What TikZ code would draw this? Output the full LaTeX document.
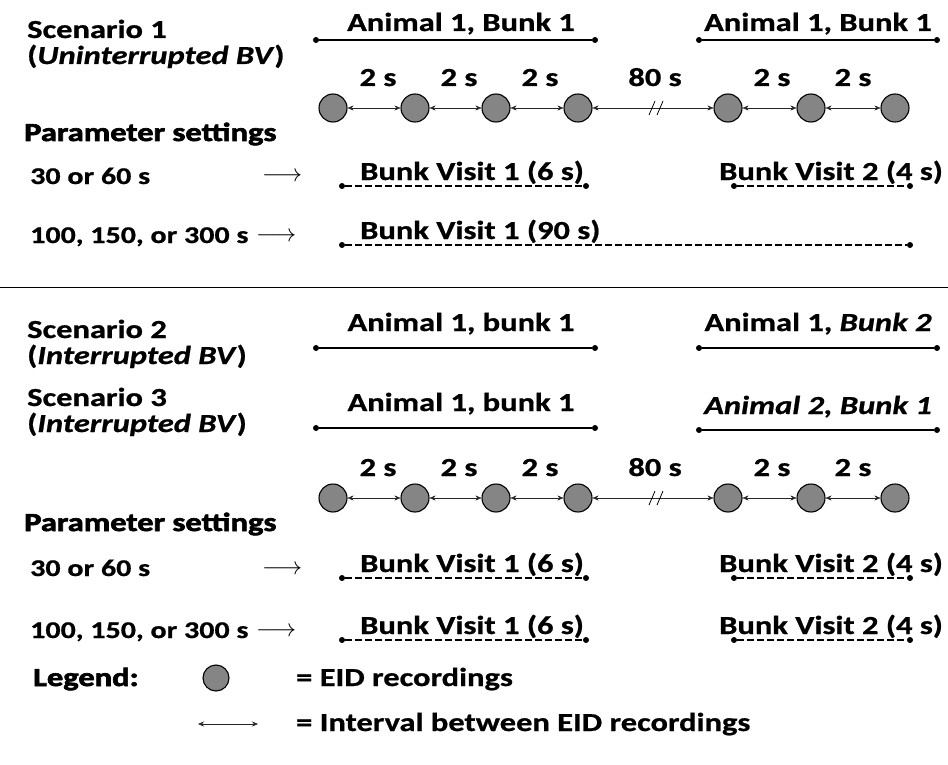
\documentclass[tikz,border=0pt]{standalone}
\usepackage{fontspec}
\setmainfont{Carlito}[FakeStretch=1.25, BoldFeatures={FakeBold=0.8}, BoldItalicFeatures={FakeBold=0.8}]
\newfontfamily\heavyfont{Carlito}[FakeStretch=1.25, BoldFeatures={FakeBold=2.5}]
\usetikzlibrary{arrows.meta}

\tikzset{
  txt/.style={anchor=base west, inner sep=0pt, font=\fontsize{26}{28}\selectfont\bfseries},
  ctxt/.style={anchor=base, inner sep=0pt, font=\fontsize{26}{28}\selectfont\bfseries},
  rowtxt/.style={txt, font=\fontsize{24}{26}\selectfont\bfseries},
  heavy/.style={txt, font=\fontsize{26}{28}\selectfont\heavyfont\bfseries},
  goes/.style={anchor=base west, inner sep=0pt, font=\fontsize{24}{26}\selectfont},
  rec/.style={circle, draw=black, line width=1.1pt, fill=black!48, minimum size=28pt, inner sep=0pt},
  gap/.style={{Stealth[length=6pt,width=5pt]}-{Stealth[length=6pt,width=5pt]}, draw=black!85},
  span/.style={line width=1.3pt},
  visit/.style={line width=1.4pt, dash pattern=on 7pt off 3pt},
  tip/.style={circle, fill=black, inner sep=0pt, minimum size=6pt}
}

\begin{document}
\begin{tikzpicture}[x=1pt,y=-1pt]
  \useasboundingbox (0,0) rectangle (948,765);

  % Scenario 1
  \node[txt] (sc1) at (27,38) {Scenario 1};
  \node[txt] (sc1b) at (27,64) {(\textit{Uninterrupted BV})};
  \node[ctxt] (a1) at (461,31) {Animal 1, Bunk 1};
  \node[ctxt] (a2) at (818,31) {Animal 1, Bunk 1};
  \node[tip] (a1l) at (316,40) {};
  \node[tip] (a1r) at (595,40) {};
  \node[tip] (a2l) at (699,40) {};
  \node[tip] (a2r) at (937,40) {};
  \draw[span] (a1l) -- (a1r);
  \draw[span] (a2l) -- (a2r);

  \node[ctxt] at (378,86) {2 s};
  \node[ctxt] at (459,86) {2 s};
  \node[ctxt] at (540,86) {2 s};
  \node[ctxt] at (655,86) {80 s};
  \node[ctxt] at (772,86) {2 s};
  \node[ctxt] at (853,86) {2 s};

  \node[rec] (p1) at (333,108) {};
  \node[rec] (p2) at (415,108) {};
  \node[rec] (p3) at (496,108) {};
  \node[rec] (p4) at (578,108) {};
  \node[rec] (p5) at (728,108) {};
  \node[rec] (p6) at (811,108) {};
  \node[rec] (p7) at (895,108) {};
  \draw[gap] (p1) -- (p2);
  \draw[gap] (p2) -- (p3);
  \draw[gap] (p3) -- (p4);
  \draw[gap] (p4) -- (p5);
  \draw[gap] (p5) -- (p6);
  \draw[gap] (p6) -- (p7);
  \draw[thick] (649,115) -- (655,101);
  \draw[thick] (657,115) -- (663,101);

  \node[heavy] (ps1) at (24,141) {Parameter settings};
  \node[rowtxt] (r1) at (30,184) {30 or 60 s};
  \node[goes] at (262,182) {$\longrightarrow$};
  \node[txt] (b1) at (360,180) {Bunk Visit 1 (6 s)};
  \node[txt] (b2) at (719,180) {Bunk Visit 2 (4 s)};
  \node[tip] (b1l) at (342,186) {};
  \node[tip] (b1r) at (586,186) {};
  \node[tip] (b2l) at (734,186) {};
  \node[tip] (b2r) at (910,186) {};
  \draw[visit] (b1l) -- (b1r);
  \draw[visit] (b2l) -- (b2r);

  \node[rowtxt] (r2) at (30,243) {100, 150, or 300 s};
  \node[goes] at (256,241) {$\longrightarrow$};
  \node[txt] (b3) at (360,239) {Bunk Visit 1 (90 s)};
  \node[tip] (b3l) at (342,245) {};
  \node[tip] (b3r) at (910,245) {};
  \draw[visit] (b3l) -- (b3r);

  % separator
  \draw (0,287) -- (948,287);

  % Scenarios 2 and 3
  \node[txt] (sc2) at (27,338) {Scenario 2};
  \node[txt] (sc2b) at (27,364) {(\textit{Interrupted BV})};
  \node[ctxt] (a3) at (461,331) {Animal 1, bunk 1};
  \node[ctxt] (a4) at (818,331) {Animal 1, \textit{Bunk 2}};
  \node[tip] (a3l) at (316,348) {};
  \node[tip] (a3r) at (595,348) {};
  \node[tip] (a4l) at (699,348) {};
  \node[tip] (a4r) at (937,348) {};
  \draw[span] (a3l) -- (a3r);
  \draw[span] (a4l) -- (a4r);

  \node[txt] (sc3) at (27,406) {Scenario 3};
  \node[txt] (sc3b) at (27,432) {(\textit{Interrupted BV})};
  \node[ctxt] (a5) at (461,411) {Animal 1, bunk 1};
  \node[ctxt] (a6) at (818,414) {\textit{Animal 2, Bunk 1}};
  \node[tip] (a5l) at (316,428) {};
  \node[tip] (a5r) at (595,428) {};
  \node[tip] (a6l) at (699,430) {};
  \node[tip] (a6r) at (937,430) {};
  \draw[span] (a5l) -- (a5r);
  \draw[span] (a6l) -- (a6r);

  \node[ctxt] at (378,476) {2 s};
  \node[ctxt] at (459,476) {2 s};
  \node[ctxt] at (540,476) {2 s};
  \node[ctxt] at (655,476) {80 s};
  \node[ctxt] at (772,476) {2 s};
  \node[ctxt] at (853,476) {2 s};

  \node[rec] (q1) at (333,498) {};
  \node[rec] (q2) at (415,498) {};
  \node[rec] (q3) at (496,498) {};
  \node[rec] (q4) at (578,498) {};
  \node[rec] (q5) at (728,498) {};
  \node[rec] (q6) at (811,498) {};
  \node[rec] (q7) at (895,498) {};
  \draw[gap] (q1) -- (q2);
  \draw[gap] (q2) -- (q3);
  \draw[gap] (q3) -- (q4);
  \draw[gap] (q4) -- (q5);
  \draw[gap] (q5) -- (q6);
  \draw[gap] (q6) -- (q7);
  \draw[thick] (649,505) -- (655,491);
  \draw[thick] (657,505) -- (663,491);

  \node[heavy] (ps2) at (24,531) {Parameter settings};
  \node[rowtxt] (r3) at (30,576) {30 or 60 s};
  \node[goes] at (262,574) {$\longrightarrow$};
  \node[txt] (b4) at (360,572) {Bunk Visit 1 (6 s)};
  \node[txt] (b5) at (719,572) {Bunk Visit 2 (4 s)};
  \node[tip] (b4l) at (342,578) {};
  \node[tip] (b4r) at (586,578) {};
  \node[tip] (b5l) at (734,578) {};
  \node[tip] (b5r) at (910,578) {};
  \draw[visit] (b4l) -- (b4r);
  \draw[visit] (b5l) -- (b5r);

  \node[rowtxt] (r4) at (30,638) {100, 150, or 300 s};
  \node[goes] at (256,636) {$\longrightarrow$};
  \node[txt] (b6) at (360,634) {Bunk Visit 1 (6 s)};
  \node[txt] (b7) at (719,634) {Bunk Visit 2 (4 s)};
  \node[tip] (b6l) at (342,640) {};
  \node[tip] (b6r) at (586,640) {};
  \node[tip] (b7l) at (734,640) {};
  \node[tip] (b7r) at (910,640) {};
  \draw[visit] (b6l) -- (b6r);
  \draw[visit] (b7l) -- (b7r);

  % legend
  \node[heavy] (lg) at (33,686) {Legend:};
  \node[rec, minimum size=26pt] (lgc) at (216,678) {};
  \node[txt] (lg1) at (296,686) {= EID recordings};
  \coordinate (lgl) at (198,724);
  \coordinate (lgr) at (258,724);
  \draw[gap] (lgl) -- (lgr);
  \node[txt] (lg2) at (296,731) {= Interval between EID recordings};
\end{tikzpicture}
\end{document}
